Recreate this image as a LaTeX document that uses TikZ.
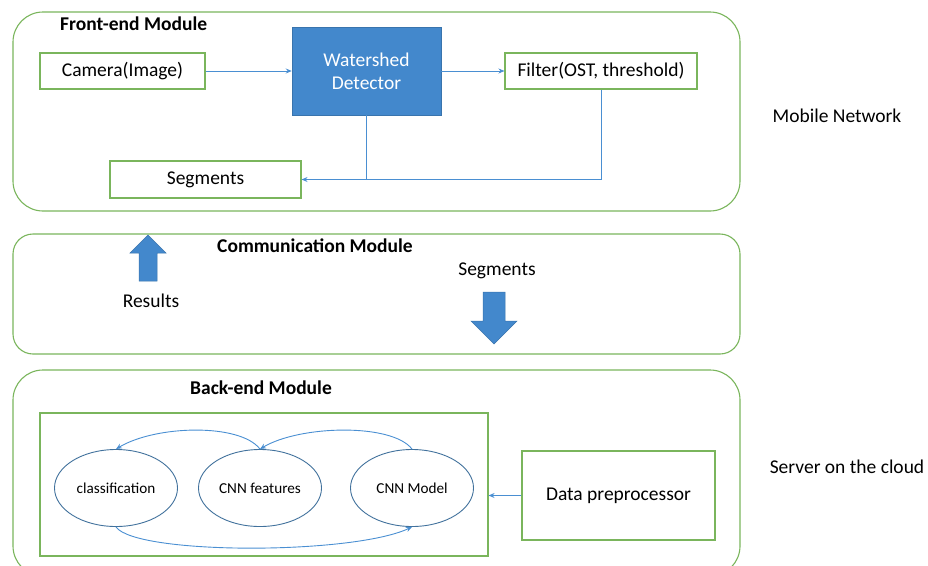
\documentclass[tikz,border=0pt]{standalone}
\usepackage{fontspec}
\setmainfont{Carlito}
\usetikzlibrary{arrows.meta,shapes.geometric}
\definecolor{grn}{HTML}{7AB55C}
\definecolor{blu}{HTML}{4A8FD2}
\definecolor{ellb}{HTML}{41719C}
\definecolor{wfill}{HTML}{4388CC}
\begin{document}
\begin{tikzpicture}[x=1pt,y=-1pt,
  module/.style={draw=grn, line width=1.1pt, rounded corners=30pt, inner sep=0pt},
  gbox/.style={draw=grn, line width=1.1pt, inner sep=0pt, font=\fontsize{19.5}{22}\selectfont},
  title/.style={anchor=west, inner sep=0pt, font=\fontsize{19.5}{22}\selectfont\bfseries},
  plain/.style={inner sep=0pt, font=\fontsize{19.5}{22}\selectfont},
  oval/.style={ellipse, draw=ellb, line width=0.9pt, minimum width=123pt, minimum height=77pt, inner sep=0pt, font=\fontsize{15.2}{17}\selectfont},
  conn/.style={draw=blu, line width=0.9pt, -{Stealth[length=6pt,width=5pt]}},
  link/.style={draw=blu, line width=0.9pt},
  barrow/.style={fill=wfill, draw=wfill!85!black, line width=0.5pt}]
\clip (0,0) rectangle (928,565);
% modules
\node[module, minimum width=727pt, minimum height=199pt] (front) at (376.5,111.5) {};
\node[module, rounded corners=20pt, minimum width=727pt, minimum height=120pt] (comm) at (376.5,294) {};
\node[module, minimum width=727pt, minimum height=206pt] (back) at (376.5,473) {};
\node[title] (ftitle) at (60,24) {Front-end Module};
\node[title] (ctitle) at (217,246) {Communication Module};
\node[title] (btitle) at (190,388) {Back-end Module};
% front-end
\node[gbox, minimum width=165pt, minimum height=36pt] (cam) at (122.5,71) {Camera(Image)};
\node[fill=wfill, draw=wfill!85!black, line width=0.5pt, minimum width=149pt, minimum height=88pt, inner sep=0pt, align=center, text=white, font=\fontsize{19.5}{23}\selectfont] (wd) at (366.5,71) {Watershed\\Detector};
\node[gbox, minimum width=192pt, minimum height=36pt] (filt) at (601,71) {Filter(OST, threshold)};
\node[gbox, minimum width=191pt, minimum height=37pt] (seg) at (205.5,179.5) {Segments};
\coordinate (join) at (wd.south |- seg.east);
\draw[conn] (cam.east) -- (wd.west);
\draw[conn] (wd.east) -- (filt.west);
\draw[conn] (wd.south) -- (join) -- (seg.east);
\draw[link] (filt.south) |- (join);
\node[plain] (mobile) at (837,116) {Mobile Network};
% communication
\draw[barrow] (139,281) -- (139,253) -- (130,253) -- (148,235) -- (166,253) -- (157,253) -- (157,281) -- cycle;
\node[plain] (results) at (151,301) {Results};
\node[plain] (segs) at (497,271) {Segments};
\draw[barrow] (483,292) -- (505,292) -- (505,321) -- (517,321) -- (494,344) -- (471,321) -- (483,321) -- cycle;
% back-end
\node[draw=grn, line width=1.1pt, minimum width=448pt, minimum height=143pt, inner sep=0pt] (inner) at (264,484.5) {};
\node[oval] (cls) at (116,488) {classification};
\node[oval] (cnnf) at (260,488) {CNN features};
\node[oval] (cnnm) at (412,488) {CNN Model};
\node[gbox, minimum width=193pt, minimum height=89pt] (dp) at (618.5,495.5) {Data preprocessor};
\draw[conn] (cnnf.north) .. controls +(-20,-26) and +(40,-24) .. (cls.north);
\draw[conn] (cnnm.north) .. controls +(-20,-26) and +(40,-24) .. (cnnf.north);
\draw[conn] (cls.south) .. controls +(20,28) and +(-60,28) .. (cnnm.south);
\draw[conn] (dp.west) -- (dp.west -| inner.east);
\node[plain] (server) at (847,467) {Server on the cloud};
\end{tikzpicture}
\end{document}
